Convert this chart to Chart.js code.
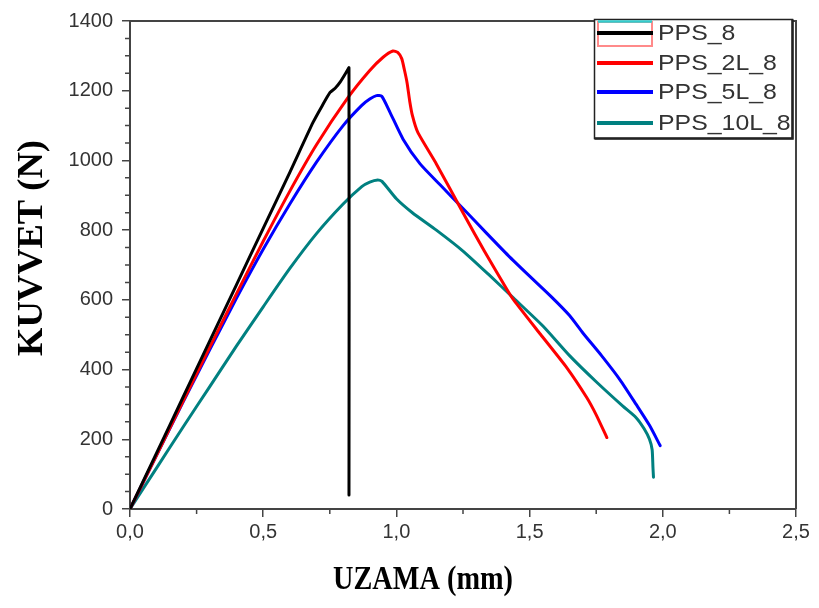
<!DOCTYPE html>
<html><head><meta charset="utf-8">
<script src="https://cdn.jsdelivr.net/npm/chart.js@4.4.0/dist/chart.umd.min.js"></script>
<style>html,body{margin:0;padding:0;background:#fff}</style>
</head><body>
<canvas id="c" width="819" height="608"></canvas>
<script>
// ---- data ----
const seriesNames = ['PPS_8', 'PPS_2L_8', 'PPS_5L_8', 'PPS_10L_8'];
const xTickValues = [0, 0.5, 1.0, 1.5, 2.0, 2.5];
const yTickValues = [0, 200, 400, 600, 800, 1000, 1200, 1400];

const pps8X = [0, 0.1, 0.2, 0.3, 0.4, 0.5, 0.6, 0.687, 0.72, 0.751, 0.77, 0.79, 0.815, 0.822, 0.822];
const pps8Y = [0, 161, 322, 483, 644, 805, 966, 1109, 1155, 1195, 1207, 1226, 1257, 1266, 40];

const pps2LX = [0, 0.1, 0.2, 0.3, 0.4, 0.5, 0.6, 0.7, 0.818, 0.9, 0.95, 0.987, 1.005, 1.02, 1.03, 1.04, 1.05, 1.06, 1.08, 1.15, 1.25, 1.33, 1.415, 1.44, 1.54, 1.64, 1.715, 1.75, 1.79];
const pps2LY = [0, 155, 310, 465, 618, 768, 912, 1045, 1180, 1258, 1296, 1314, 1310, 1292, 1260, 1223, 1170, 1129, 1081, 990, 850, 740, 630, 600, 502, 405, 319, 270, 205];

const pps5LX = [0, 0.1, 0.2, 0.3, 0.4, 0.5, 0.6, 0.7, 0.8, 0.87, 0.9, 0.925, 0.945, 0.976, 1.025, 1.089, 1.164, 1.25, 1.34, 1.42, 1.5, 1.58, 1.65, 1.7, 1.77, 1.84, 1.9, 1.95, 1.99];
const pps5LY = [0, 155, 308, 458, 605, 745, 875, 995, 1100, 1158, 1176, 1186, 1184, 1138, 1061, 990, 930, 862, 790, 727, 668, 610, 555, 505, 440, 370, 300, 240, 182];

const pps10LX = [0, 0.1, 0.2, 0.3, 0.4, 0.5, 0.6, 0.7, 0.8, 0.87, 0.9, 0.93, 0.946, 1.0, 1.06, 1.15, 1.25, 1.35, 1.44, 1.55, 1.65, 1.75, 1.85, 1.9, 1.93, 1.95, 1.96, 1.963, 1.965];
const pps10LY = [0, 118, 236, 352, 468, 580, 690, 790, 875, 925, 938, 944, 940, 890, 850, 800, 740, 670, 605, 525, 440, 365, 295, 262, 230, 200, 170, 120, 91];

const seriesColors = ['#000000', '#ff0000', '#0000ff', '#008080'];

function pts(xs, ys) { return xs.map((x, i) => ({ x: x, y: ys[i] })); }
const allX = [pps8X, pps2LX, pps5LX, pps10LX];
const allY = [pps8Y, pps2LY, pps5LY, pps10LY];

const datasets = seriesNames.map((n, i) => ({
  label: n,
  data: pts(allX[i], allY[i]),
  borderColor: seriesColors[i],
  backgroundColor: seriesColors[i],
  borderWidth: 3,
  pointRadius: 0,
  showLine: true,
  tension: 0.2,
  borderJoinStyle: 'round',
  borderCapStyle: 'round',
  fill: false
}));

const AX = '#444';
function fitText(ctx, text, cx, cy, targetW) {
  const w = ctx.measureText(text).width;
  ctx.save();
  ctx.translate(cx, cy);
  ctx.scale(targetW / w, 1);
  ctx.fillText(text, 0, 0);
  ctx.restore();
}
const extras = {
  id: 'extras',
  afterDraw(chart) {
    const ctx = chart.ctx, ca = chart.chartArea;
    const xs = chart.scales.x, ys = chart.scales.y;
    ctx.save();
    // frame top & right
    ctx.strokeStyle = AX; ctx.lineWidth = 2;
    ctx.beginPath();
    ctx.moveTo(ca.left, ca.top); ctx.lineTo(ca.right, ca.top); ctx.lineTo(ca.right, ca.bottom);
    ctx.stroke();
    // minor ticks
    ctx.lineWidth = 1.5;
    ctx.beginPath();
    for (let v = 0.25; v < 2.5; v += 0.5) {
      const p = xs.getPixelForValue(v);
      ctx.moveTo(p, ca.bottom); ctx.lineTo(p, ca.bottom + 5);
    }
    for (let v = 50; v < 1400; v += 50) {
      if (v % 200 === 0) continue;
      const p = ys.getPixelForValue(v);
      ctx.moveTo(ca.left, p); ctx.lineTo(ca.left - 5, p);
    }
    ctx.stroke();
    // axis titles
    ctx.fillStyle = '#000';
    ctx.font = 'bold 34px "Liberation Serif", "Times New Roman", serif';
    ctx.textAlign = 'center'; ctx.textBaseline = 'middle';
    fitText(ctx, 'UZAMA (mm)', 423, 580, 180);
    ctx.save();
    ctx.translate(33, 248); ctx.rotate(-Math.PI / 2);
    ctx.font = 'bold 35px "Liberation Serif", "Times New Roman", serif';
    fitText(ctx, 'KUVVET (N)', 0, 0, 216);
    ctx.restore();
    // legend
    const bx = 594.5, by = 19.5, bw = 198, bh = 119;
    ctx.fillStyle = '#fff';
    ctx.fillRect(bx, by, bw, bh);
    ctx.strokeStyle = '#222'; ctx.lineWidth = 1.5;
    ctx.strokeRect(bx, by, bw, bh);
    ctx.lineWidth = 2.5;
    ctx.beginPath(); ctx.moveTo(bx + bw, by); ctx.lineTo(bx + bw, by + bh); ctx.lineTo(bx, by + bh); ctx.stroke();
    const rows = [33, 63, 92, 123];
    ctx.strokeStyle = '#ff8a8a'; ctx.lineWidth = 2;
    ctx.strokeRect(598, 22, 54, 24);
    ctx.strokeStyle = '#33cccc'; ctx.lineWidth = 2.5;
    ctx.beginPath(); ctx.moveTo(598, 21.5); ctx.lineTo(652, 21.5); ctx.stroke();
    ctx.font = '22px "Liberation Sans", Arial, sans-serif';
    ctx.textAlign = 'left'; ctx.textBaseline = 'middle';
    seriesNames.forEach((n, i) => {
      ctx.strokeStyle = seriesColors[i]; ctx.lineWidth = 4;
      ctx.beginPath(); ctx.moveTo(597, rows[i]); ctx.lineTo(653, rows[i]); ctx.stroke();
      ctx.fillStyle = '#333';
      ctx.save();
      ctx.translate(658, rows[i] + 1);
      ctx.scale(1.13, 1);
      ctx.fillText(n, 0, 0);
      ctx.restore();
    });
    ctx.restore();
  }
};

new Chart(document.getElementById('c'), {
  type: 'scatter',
  data: { datasets: datasets },
  options: {
    responsive: false,
    animation: false,
    layout: { padding: { left: 0, top: 18, right: 23, bottom: 0 } },
    plugins: { legend: { display: false }, tooltip: { enabled: false } },
    scales: {
      x: {
        type: 'linear', min: 0, max: 2.5,
        afterBuildTicks: s => { s.ticks = xTickValues.map(v => ({ value: v })); },
        afterFit: s => { s.height = 99; },
        ticks: {
          callback: v => v.toFixed(1).replace('.', ','),
          font: { family: '"Liberation Sans", Arial, sans-serif', size: 20 },
          color: '#333', padding: 3, maxRotation: 0
        },
        grid: { drawOnChartArea: false, tickLength: 8, color: AX, lineWidth: 1.5 },
        border: { color: AX, width: 2 }
      },
      y: {
        type: 'linear', min: 0, max: 1400,
        afterBuildTicks: s => { s.ticks = yTickValues.map(v => ({ value: v })); },
        afterFit: s => { s.width = 130; },
        ticks: {
          callback: v => String(v),
          font: { family: '"Liberation Sans", Arial, sans-serif', size: 20 },
          color: '#333', padding: 9
        },
        grid: { drawOnChartArea: false, tickLength: 8, color: AX, lineWidth: 1.5 },
        border: { color: AX, width: 2 }
      }
    }
  },
  plugins: [extras]
});
</script>
</body></html>
